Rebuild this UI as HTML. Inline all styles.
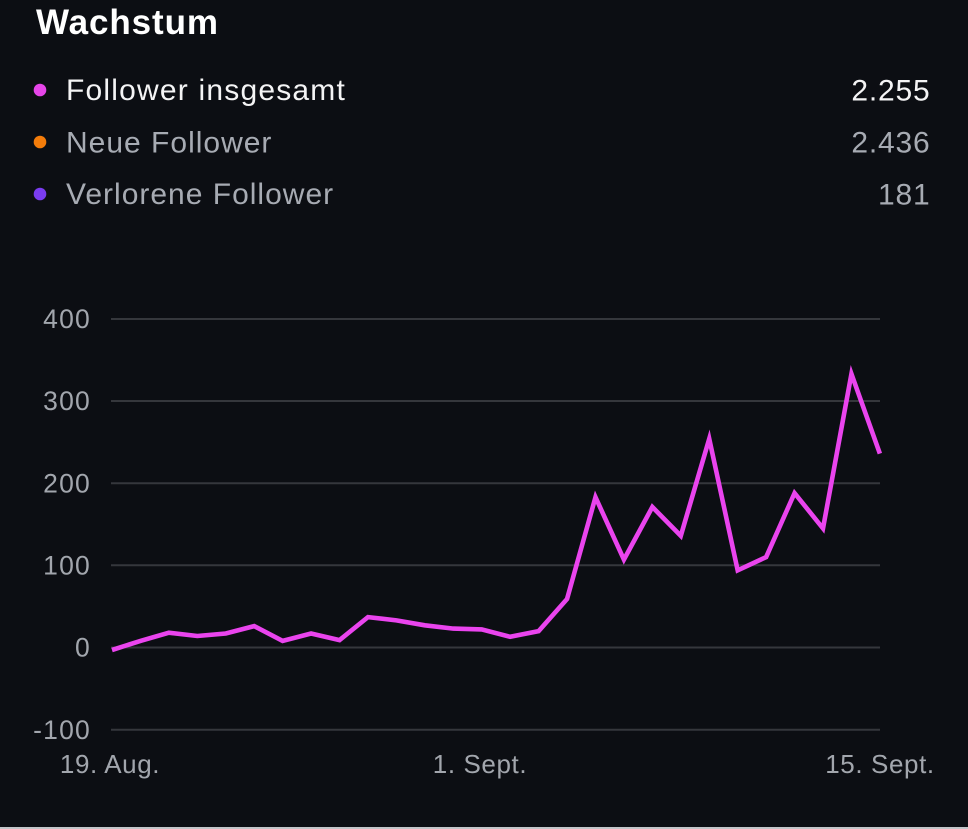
<!DOCTYPE html>
<html>
<head>
<meta charset="utf-8">
<style>
  html, body { margin: 0; padding: 0; background: #0c0e13; }
  body { width: 968px; height: 829px; overflow: hidden; position: relative; }
  svg { display: block; position: absolute; left: 0; top: 0; }
  text { font-family: "Liberation Sans", Arial, sans-serif; }
</style>
</head>
<body>
<svg width="968" height="829" viewBox="0 0 968 829" xmlns="http://www.w3.org/2000/svg">
  <rect x="0" y="0" width="968" height="829" fill="#0c0e13"/>

  <!-- Title -->
  <text x="36" y="34" font-size="35" font-weight="bold" fill="#ffffff" letter-spacing="0.9">Wachstum</text>

  <!-- Legend -->
  <circle cx="40" cy="90" r="6.3" fill="#e645e8"/>
  <text x="66" y="100" font-size="30" fill="#f4f4f5" letter-spacing="1.2">Follower insgesamt</text>
  <text x="930.5" y="100.5" font-size="30" fill="#f4f4f5" text-anchor="end" letter-spacing="0.8">2.255</text>

  <circle cx="40" cy="142" r="6.3" fill="#f47c0a"/>
  <text x="66" y="152.5" font-size="30" fill="#a7abb3" letter-spacing="1.0">Neue Follower</text>
  <text x="930.5" y="152.5" font-size="30" fill="#a7abb3" text-anchor="end" letter-spacing="0.8">2.436</text>

  <circle cx="40" cy="194" r="6.3" fill="#7a3cf0"/>
  <text x="66" y="204" font-size="30" fill="#a7abb3" letter-spacing="1.0">Verlorene Follower</text>
  <text x="930.5" y="204.5" font-size="30" fill="#a7abb3" text-anchor="end" letter-spacing="0.8">181</text>

  <!-- Gridlines -->
  <g stroke="#35373c" stroke-width="2">
    <line x1="111" y1="319" x2="880" y2="319"/>
    <line x1="111" y1="401" x2="880" y2="401"/>
    <line x1="111" y1="483.3" x2="880" y2="483.3"/>
    <line x1="111" y1="565.3" x2="880" y2="565.3"/>
    <line x1="111" y1="647.5" x2="880" y2="647.5"/>
    <line x1="111" y1="729.8" x2="880" y2="729.8"/>
  </g>

  <!-- Y labels -->
  <g font-size="26.5" fill="#a2a6ad" text-anchor="end" letter-spacing="1.2">
    <text x="91" y="328">400</text>
    <text x="91" y="410">300</text>
    <text x="91" y="492.5">200</text>
    <text x="91" y="574.5">100</text>
    <text x="91" y="656.5">0</text>
    <text x="91" y="739">-100</text>
  </g>

  <!-- X labels -->
  <g font-size="26" fill="#a2a6ad" text-anchor="middle" letter-spacing="0.6">
    <text x="110" y="773">19. Aug.</text>
    <text x="480" y="773">1. Sept.</text>
    <text x="880" y="773">15. Sept.</text>
  </g>

  <!-- Series -->
  <polyline fill="none" stroke="#ea44ee" stroke-width="4.6" stroke-linejoin="miter" stroke-miterlimit="10" stroke-linecap="butt"
    points="112,650 140.44,640.9 168.88,632.7 197.32,636 225.76,633.5 254.2,626.1 282.64,640.9 311.08,633.5 339.52,640.1 367.96,617.1 396.4,620.4 424.84,625.3 453.28,628.6 481.72,629.4 510.16,636.8 538.6,631.1 567.04,599 595.48,497.2 623.92,559.6 652.36,507 680.8,535.8 709.24,438.8 737.68,570.3 766.12,557.1 794.56,493.1 823,528.4 851.44,373.9 879.88,453.6"/>

  <!-- bottom edge line -->
  <rect x="0" y="827" width="968" height="2" fill="#c3c5c9"/>
</svg>
</body>
</html>
